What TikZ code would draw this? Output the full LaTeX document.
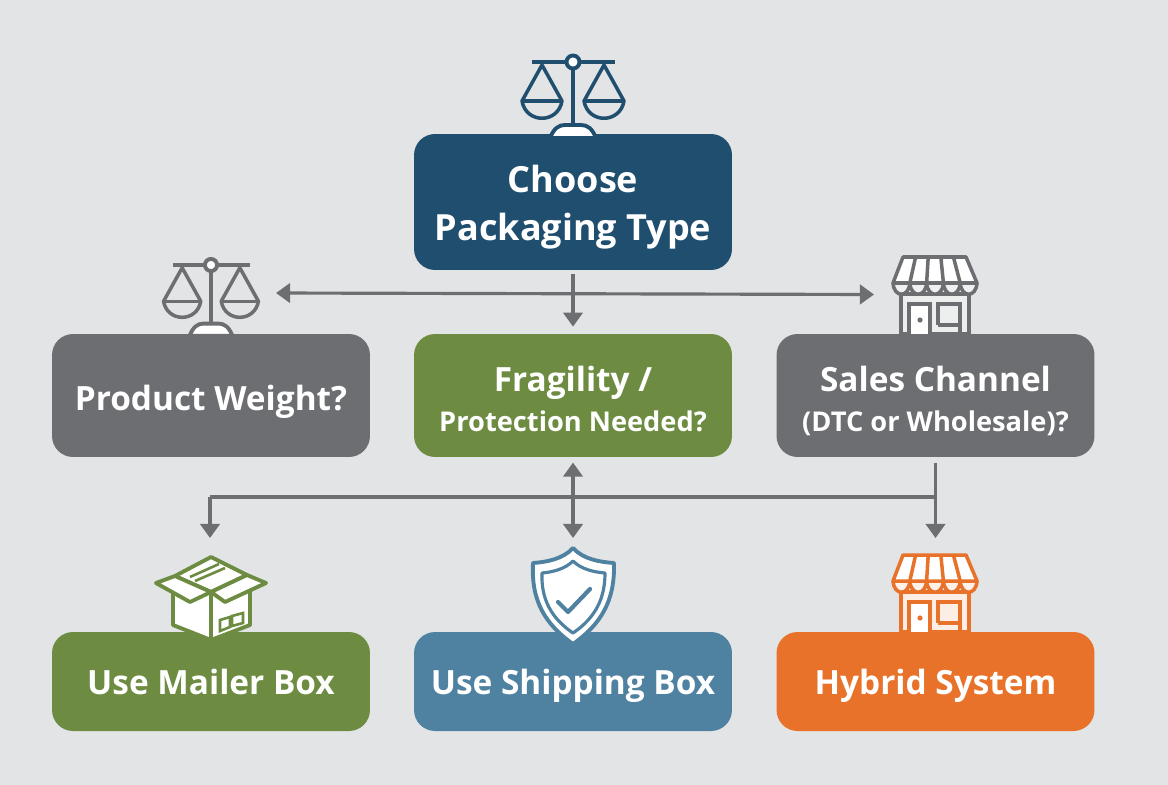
\documentclass[tikz,border=0pt]{standalone}
\usepackage{fontspec}
\setmainfont{Open Sans}
\usetikzlibrary{arrows.meta}

\definecolor{pagegray}{HTML}{E2E4E6}
\definecolor{navyblue}{HTML}{1F4E6E}
\definecolor{slategray}{HTML}{6D6E72}
\definecolor{mossgreen}{HTML}{6D8C42}
\definecolor{steelblue}{HTML}{4F81A0}
\definecolor{brightorange}{HTML}{E8722A}

\newcommand{\subline}{\fontsize{15.5}{23}\selectfont}

\tikzset{
    decision/.style={rounded corners=0.42cm, minimum width=6.36cm, text=white,
                     align=center, inner sep=0pt, text depth=0pt,
                     font=\bfseries\fontsize{19}{23}\selectfont},
    oneline/.style={decision, text height=14.5pt},
    twolines/.style={decision, text height=#1},
    connector/.style={draw=slategray, line width=1.8pt},
    tipped/.style={connector, -{Triangle[length=8pt,width=11pt]}},
    twotipped/.style={connector, {Triangle[length=8pt,width=11pt]}-{Triangle[length=8pt,width=11pt]}},
    %vaga
    pics/scalesicon/.style={code={
        \draw[#1, line width=2.2pt, fill=white] (-23,76) .. controls (-19,66) and (-14,63) .. (-8,63)
            -- (8,63) .. controls (14,63) and (19,66) .. (23,76) -- cycle;
        \draw[#1, line width=2.2pt] (-41,0) -- (42,0);
        \draw[#1, line width=2.2pt] (0,7) -- (0,64);
        \foreach \s in {-31,31}{
            \draw[#1, line width=2pt, line join=round] (\s-20,39) -- (\s,3) -- (\s+20,39)
                .. controls (\s+16,62) and (\s-16,62) .. (\s-20,39) -- cycle;
            \draw[#1, line width=2pt] (\s-20,39) -- (\s+20,39);
        }
        \draw[#1, line width=2.2pt, fill=white] (0,0) circle (6.5);
    }},
    %radnja
    pics/storeicon/.style={code={
        \draw[#1, line width=2pt, fill=white!88!#1] (-34,-40) rectangle (34,0);
        \draw[#1, line width=2pt, fill=white] (-26,0) -- (-26,-30) -- (-5,-30) -- (-5,0);
        \fill[#1] (-15,-14) circle (2.6);
        \draw[#1, line width=2pt] (3,-9) -- (3,-30) -- (25,-30) -- (25,0);
        \draw[#1, line width=2pt] (3,-9) -- (25,-9);
        \foreach \i [evaluate=\i as \xa using -42+16.8*\i,
                     evaluate=\i as \xb using -42+16.8*(\i+1)] in {0,...,4}{
            \draw[#1, line width=2pt, fill=white!90!#1] (\xa,-51)
                .. controls (\xa+1,-36) and (\xb-1,-36) .. (\xb,-51);
        }
        \draw[#1, line width=2pt, fill=white, line join=round] (-32,-77) -- (31,-77) -- (42,-51) -- (-42,-51) -- cycle;
        \foreach \i [evaluate=\i as \xa using -32+12.6*\i,
                     evaluate=\i as \xb using -42+16.8*\i] in {1,...,4}{
            \draw[#1, line width=2pt] (\xa,-77) -- (\xb,-51);
        }
    }},
    %kutija
    pics/boxicon/.style={code={
        \draw[#1, line width=2.2pt, fill=white, line join=round] (-38,9) -- (-38,44) -- (0,59) -- (39,44) -- (39,9) -- cycle;
        \draw[#1, line width=2.2pt] (0,11) -- (0,59);
        \draw[#1, line width=2.2pt, fill=white, line join=round] (0,-24) -- (-36,-5) -- (0,11) -- (36,-6) -- cycle;
        \draw[#1, line width=2.2pt, fill=white, line join=round] (-55,2) -- (-36,-5) -- (0,11) -- (-21,21) -- cycle;
        \draw[#1, line width=2.2pt, fill=white, line join=round] (55,2) -- (36,-6) -- (0,11) -- (14,21) -- cycle;
        \draw[#1, line width=1.5pt] (-16,0) -- (14,-13);
        \draw[#1, line width=1.5pt] (-21,-4) -- (8,-17);
        \draw[#1, line width=1.5pt] (9,39) -- (19,36) -- (19,46) -- (9,50) -- cycle;
        \draw[#1, line width=1.5pt] (21,35) -- (32,32) -- (32,42) -- (21,45) -- cycle;
    }},
    %stit
    pics/shieldicon/.style={code={
        \draw[#1, line width=2.2pt, fill=white, line join=round] (0,-48) .. controls (-10,-37) and (-26,-34) .. (-40,-33)
            .. controls (-42,5) and (-28,28) .. (0,48)
            .. controls (28,28) and (42,5) .. (41,-33)
            .. controls (26,-34) and (10,-37) .. cycle;
        \draw[#1, line width=1.8pt, line join=round] (0,-35) .. controls (-8,-27) and (-20,-24) .. (-31,-23)
            .. controls (-32,3) and (-22,22) .. (0,37)
            .. controls (22,22) and (32,3) .. (32,-23)
            .. controls (20,-24) and (8,-27) .. cycle;
        \draw[#1, line width=2.4pt, line cap=round, line join=round] (-15,6) -- (-5,16) -- (17,-7);
    }}
}

\begin{document}
\begin{tikzpicture}[x=0.02cm, y=-0.02cm]
%pozadina
    \useasboundingbox (0,0) rectangle (1168,784);
    \fill[pagegray] (-5,-5) rectangle (1173,789);

%cvorovi
    %gornji
    \node[twolines=43.4pt, fill=navyblue, minimum height=2.72cm, font=\bfseries\fontsize{20.5}{27}\selectfont] (choose) at (573,202)
        {Choose\\ Packaging Type};

    %srednji red
    \node[oneline, text height=17pt, fill=slategray, minimum height=2.46cm] (weight) at (211,395.5)
        {Product Weight?};
    \node[twolines=41.3pt, fill=mossgreen, minimum height=2.46cm] (fragility) at (573,395.5)
        {Fragility /\\ \subline Protection Needed?};
    \node[twolines=41.3pt, fill=slategray, minimum height=2.46cm] (sales) at (935.5,395.5)
        {Sales Channel\\ \subline (DTC or Wholesale)?};

    %donji red
    \node[oneline, fill=mossgreen, minimum height=1.98cm] (mailer) at (211,681.5)
        {Use Mailer Box};
    \node[oneline, fill=steelblue, minimum height=1.98cm] (shipping) at (573,681.5)
        {Use Shipping Box};
    \node[oneline, fill=brightorange, minimum height=1.98cm] (hybrid) at (935.5,681.5)
        {Hybrid System};

%slobodni krajevi
    \coordinate (weighttip) at (276,293);
    \coordinate (salestip) at (874,294.5);
    \coordinate (busleft) at (210,497);
    \coordinate (busright) at (935.5,497);
    \coordinate (mailertip) at (210,538);
    \coordinate (shippingtip) at (573,538);
    \coordinate (hybridtip) at (935.5,538);

%veze
    \draw[twotipped] (weighttip) -- (salestip);
    \draw[tipped, shorten <=2pt, shorten >=4pt] (choose.south) -- (fragility.north);
    \draw[connector] (busleft) -- (busright);
    \draw[tipped] (busleft) -- (mailertip);
    \draw[twotipped, shorten <=3pt] (fragility.south) -- (shippingtip);
    \draw[tipped, shorten <=3pt] (sales.south) -- (hybridtip);

%ikone
    \pic at (573,62) {scalesicon=navyblue};
    \pic[scale=0.93] at (211,265) {scalesicon=slategray};
    \pic at (935,334) {storeicon=slategray};
    \pic at (935,632) {storeicon=brightorange};
    \pic at (211,581) {boxicon=mossgreen};
    \pic at (573,596) {shieldicon=steelblue};
\end{tikzpicture}
\end{document}
